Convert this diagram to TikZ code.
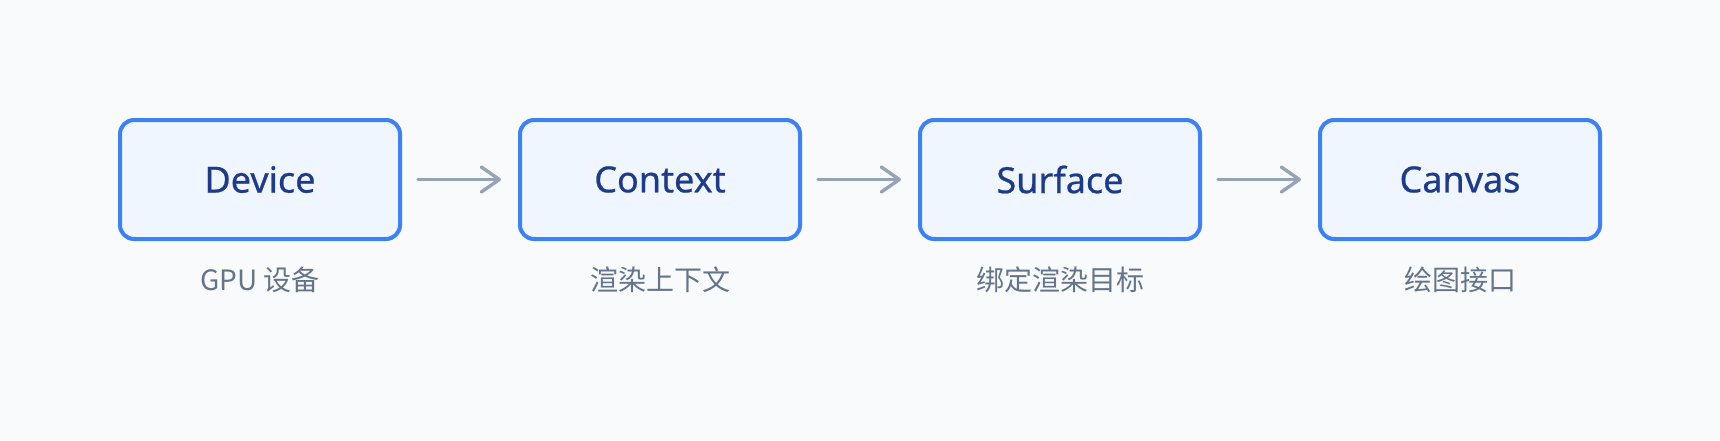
\documentclass[tikz,border=0pt]{standalone}
\usepackage{fontspec}
\setmainfont{Noto Sans}
\newfontfamily\boxfont[FakeBold=0.6]{Noto Sans}
\newfontfamily\cjk{Noto Sans CJK SC}
\usetikzlibrary{arrows.meta}
\definecolor{bgc}{HTML}{F8FAFC}
\definecolor{boxfill}{HTML}{EFF6FF}
\definecolor{boxline}{HTML}{3B82F6}
\definecolor{boxtext}{HTML}{1E3A8A}
\definecolor{subtext}{HTML}{64748B}
\definecolor{arrowc}{HTML}{94A3B8}
\tikzset{
  stepbox/.style={draw=boxline, fill=boxfill, line width=2pt, rounded corners=7pt,
    minimum width=140pt, minimum height=59.5pt, inner sep=0pt, text=boxtext,
    font=\boxfont\fontsize{18pt}{22pt}\selectfont},
  sublabel/.style={text=subtext, font=\cjk\fontsize{14pt}{17pt}\selectfont, inner sep=0pt},
  flow/.style={draw=arrowc, line width=1.7pt, line cap=round,
    -{Straight Barb[length=9pt,width=12.5pt,line cap=round,line join=round]},
    shorten <=8pt, shorten >=8.5pt}
}
\begin{document}
\begin{tikzpicture}[x=0.5pt,y=-0.5pt]
\fill[bgc] (0,0) rectangle (1720,440);
\useasboundingbox (0,0) rectangle (1720,440);
\node[stepbox] (dev) at (260,179.5) {Device};
\node[stepbox] (ctx) at (660,179.5) {Context};
\node[stepbox] (srf) at (1060,179.5) {Surface};
\node[stepbox] (cnv) at (1460,179.5) {Canvas};
\node[sublabel] (devl) at (260,280) {GPU 设备};
\node[sublabel] (ctxl) at (660,280) {渲染上下文};
\node[sublabel] (srfl) at (1060,280) {绑定渲染目标};
\node[sublabel] (cnvl) at (1460,280) {绘图接口};
\draw[flow] (dev.east) -- (ctx.west);
\draw[flow] (ctx.east) -- (srf.west);
\draw[flow] (srf.east) -- (cnv.west);
\end{tikzpicture}
\end{document}
